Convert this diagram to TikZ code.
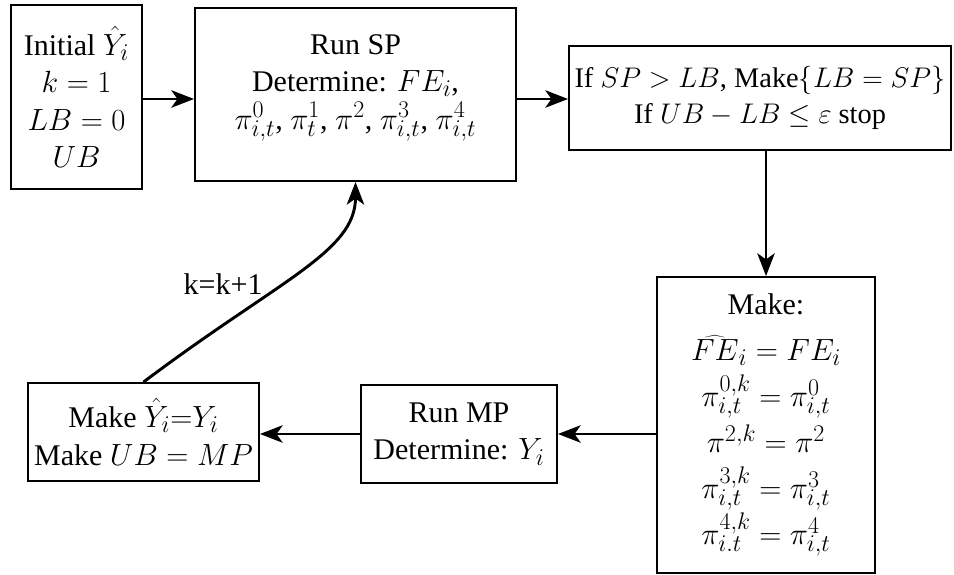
\RequirePackage{fix-cm}
\documentclass[tikz,border=0pt]{standalone}
\usepackage{fontspec}
\setmainfont{Liberation Serif}
\DeclareMathSizes{22.5}{23}{18}{14}
\usetikzlibrary{arrows.meta}
\begin{document}
\begin{tikzpicture}[x=0.75pt,y=0.75pt,
  box/.style={draw,line width=1.4pt,align=center,inner sep=0pt,
    font=\fontsize{22.5}{28}\selectfont},
  arr/.style={-{Stealth[length=17pt,width=13pt,inset=4.5pt]},line width=2.2pt}]
  \useasboundingbox (0,0) rectangle (954,575);

  %draw boxes
  \node[box,minimum width=98.25pt,minimum height=138pt] (init) at (76.5,478)
    {Initial $\hat{Y}_i$\\ $k=1$\\ $LB=0$\\ $UB$};
  \node[box,minimum width=240.75pt,minimum height=129.75pt] (sp) at (355.5,480.5)
    {Run SP\\ Determine: $FE_i$,\\
     $\pi^0_{i,t}$, $\pi^1_t$, $\pi^2$, $\pi^3_{i,t}$, $\pi^4_{i,t}$\rule[-19pt]{0pt}{1pt}};
  \node[box,minimum width=286.5pt,minimum height=78pt,
    font=\fontsize{21.3}{27}\selectfont] (check) at (760,477)
    {If $SP>LB$, Make$\{LB=SP\}$\\ If $UB-LB\leq\varepsilon$ stop};
  \node[box,minimum width=163.5pt,minimum height=222pt,
    font=\fontsize{22.5}{34.5}\selectfont] (make) at (766,150)
    {Make:\\ $\widehat{FE}_i=FE_i$\\ $\pi^{0,k}_{i,t}=\pi^0_{i,t}$\\ $\pi^{2,k}=\pi^2$\\
     $\pi^{3,k}_{i,t}=\pi^3_{i,t}$\\ $\pi^{4,k}_{i.t}=\pi^4_{i,t}$};
  \node[box,minimum width=147pt,minimum height=73.5pt] (mp) at (459,141)
    {Run MP\\ Determine: $Y_i$};
  \node[box,minimum width=173.25pt,minimum height=73.5pt] (upd) at (143.5,143)
    {Make $\hat{Y}_i{=}Y_i$\\ Make $UB=MP$};

  %draw arrows
  \draw[arr] (init.east |- 0,476) -- (sp.west |- 0,476);
  \draw[arr] (sp.east |- 0,476) -- (check.west |- 0,476);
  \draw[arr] (check.south -| make.north) -- (make.north);
  \draw[arr] (make.west |- mp.east) -- (mp.east);
  \draw[arr] (mp.west) -- (upd.east |- mp.west);
  \draw[arr] (upd.north) .. controls +(37:170) and +(-90:70) .. (sp.south)
    node[pos=0.42,left=10pt,font=\fontsize{22.5}{28}\selectfont] {k=k+1};
\end{tikzpicture}
\end{document}
